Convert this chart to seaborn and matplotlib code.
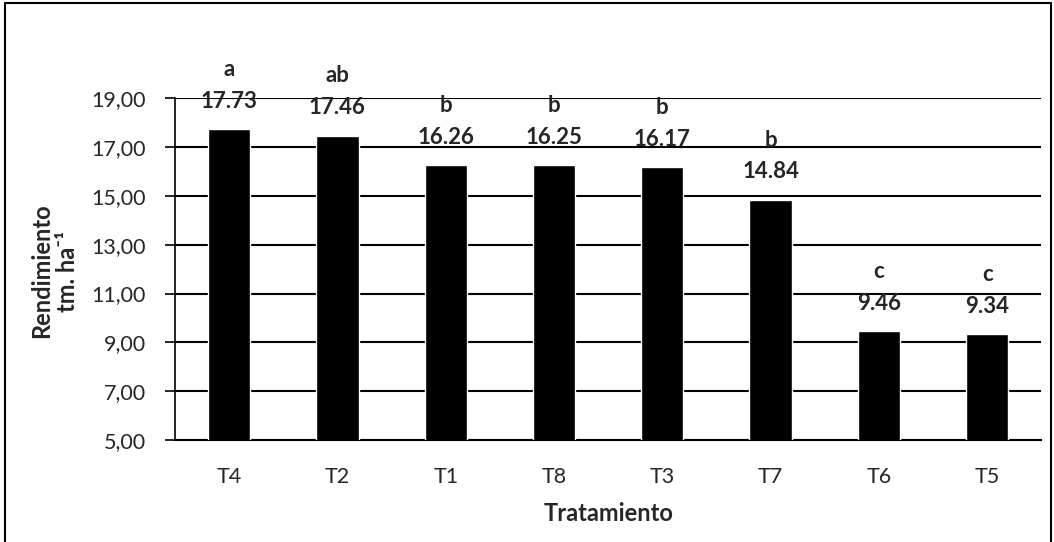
import numpy as np
import pandas as pd
import seaborn as sns
import matplotlib.pyplot as plt
from matplotlib.patches import Rectangle
from matplotlib.ticker import FuncFormatter

tratamientos = ['T4', 'T2', 'T1', 'T8', 'T3', 'T7', 'T6', 'T5']
rendimiento = [17.73, 17.46, 16.26, 16.25, 16.17, 14.84, 9.46, 9.34]
letras = ['a', 'ab', 'b', 'b', 'b', 'b', 'c', 'c']
yticks = [5, 7, 9, 11, 13, 15, 17, 19]

df = pd.DataFrame({'Tratamiento': tratamientos, 'Rendimiento': rendimiento})

sns.set_style('white')
plt.rcParams['font.family'] = ['Lato', 'DejaVu Sans']

fig = plt.figure(figsize=(10.54, 5.42), dpi=100)
ax = fig.add_axes([0.166, 0.188, 0.822, 0.631])

sns.barplot(data=df, x='Tratamiento', y='Rendimiento', color='black',
            width=0.39, saturation=1, ax=ax, zorder=3)

ax.set_ylim(5, 19)
ax.set_yticks(yticks)
ax.yaxis.set_major_formatter(FuncFormatter(lambda v, p: f'{v:.2f}'.replace('.', ',')))
ax.yaxis.grid(True, color='black', lw=1.5, zorder=0)
ax.set_axisbelow(True)
for s in ['top', 'right']:
    ax.spines[s].set_visible(False)
ax.spines['left'].set_color('black')
ax.spines['bottom'].set_color('black')
ax.spines['left'].set_linewidth(1.2)
ax.spines['bottom'].set_linewidth(1.5)
ax.tick_params(axis='y', which='major', left=True, length=7, width=1.2,
               color='black', labelsize=15.5, pad=14)
ax.tick_params(axis='x', bottom=False, labelsize=15.5, pad=16)

ax.set_xlabel('Tratamiento', fontsize=17, fontweight='bold', labelpad=11)
ax.set_ylabel('')

for i, (v, l) in enumerate(zip(rendimiento, letras)):
    ax.annotate(f'{v:.2f}', (i, v), xytext=(0, 20), textcoords='offset points',
                ha='center', va='center', fontsize=16, fontweight='bold')
    ax.annotate(l, (i, v), xytext=(0, 43), textcoords='offset points',
                ha='center', va='center', fontsize=16, fontweight='bold')

fig.text(0.050, 0.5, 'Rendimiento', rotation=90,
         ha='right', va='center', fontsize=17, fontweight='bold')
fig.text(0.053, 0.5, 'tm. ha\u207b\u00b9', rotation=90,
         ha='left', va='center', fontsize=17, fontweight='bold')

fig.patches.append(Rectangle((0.005, -0.01), 0.992, 1.004, transform=fig.transFigure,
                             fill=False, edgecolor='black', lw=1.5))

fig.savefig('out.png', dpi=100)
